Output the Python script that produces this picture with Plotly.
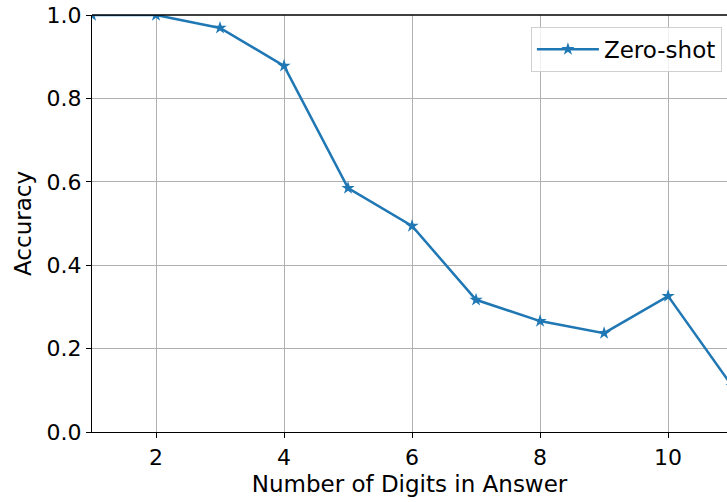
import plotly.graph_objects as go

# number of digits vs zero-shot accuracy
digits = [1, 2, 3, 4, 5, 6, 7, 8, 9, 10, 11]
accuracy = [1.0, 1.0, 0.969, 0.878, 0.585, 0.494, 0.317, 0.266, 0.237, 0.326, 0.11]
x_ticks = [2, 4, 6, 8, 10]
y_ticks = [0.0, 0.2, 0.4, 0.6, 0.8, 1.0]

fig = go.Figure()

fig.add_trace(go.Scatter(
    x=digits,
    y=accuracy,
    mode='lines+markers',
    name='Zero-shot',
    line=dict(color='#1f77b4', width=2.5),
    marker=dict(symbol='star', size=10, color='#1f77b4'),
    cliponaxis=True,
))

axis_common = dict(
    showgrid=True,
    gridcolor='#b0b0b0',
    gridwidth=1,
    showline=True,
    linecolor='black',
    linewidth=1.3,
    ticks='outside',
    ticklen=5,
    tickcolor='black',
    tickfont=dict(size=22, color='black'),
    zeroline=False,
)

fig.update_layout(
    width=727,
    height=502,
    margin=dict(l=92, r=0, t=15, b=70),
    paper_bgcolor='white',
    plot_bgcolor='white',
    font=dict(family='DejaVu Sans', size=22, color='black'),
    showlegend=True,
    legend=dict(
        x=0.992, y=0.972, xanchor='right', yanchor='top',
        bordercolor='#d0d0d0', borderwidth=1,
        bgcolor='rgba(255,255,255,0.8)',
        font=dict(size=23),
        itemwidth=62,
    ),
    xaxis=dict(
        axis_common,
        range=[1, 10.92],
        tickvals=x_ticks,
        title=dict(text='Number of Digits in Answer', font=dict(size=23), standoff=7),
    ),
    yaxis=dict(
        axis_common,
        range=[0, 1.0],
        tickvals=y_ticks,
        tickformat='.1f',
        title=dict(text='Accuracy', font=dict(size=23), standoff=8),
    ),
)

# top spine
fig.add_shape(type='line', xref='paper', yref='paper', x0=0, x1=1, y0=1, y1=1,
              line=dict(color='black', width=1.3))

# drop the default 8px body margin so the figure fills the window
fig.write_html('out.html', config={'displayModeBar': False},
               post_script="document.body.style.margin='0';")
